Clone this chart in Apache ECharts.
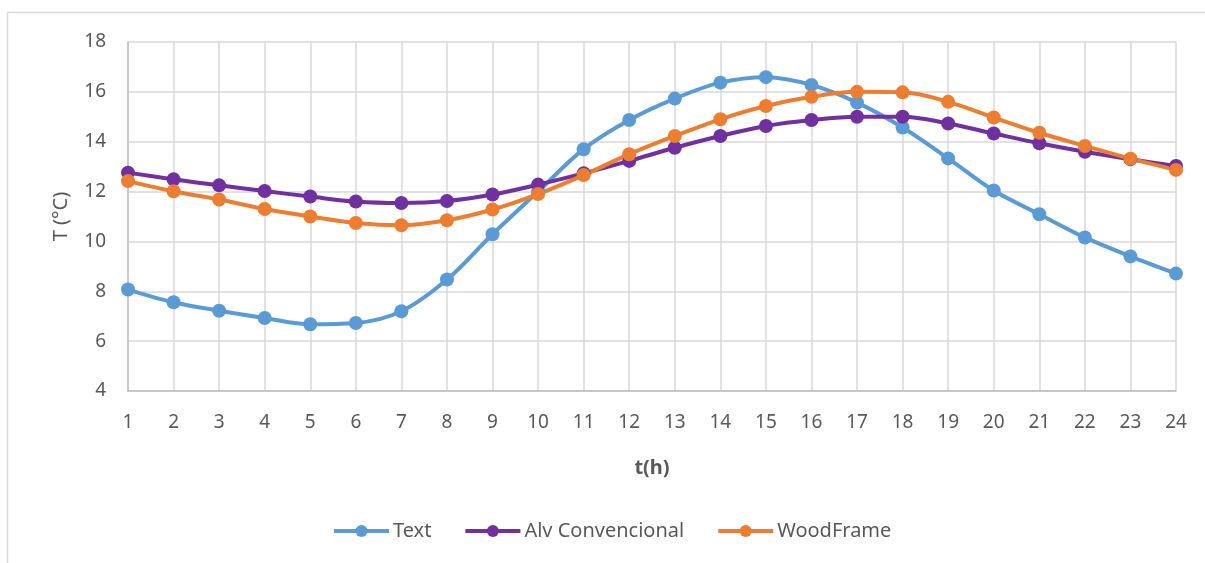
<!DOCTYPE html>
<html>
<head>
<meta charset="utf-8">
<script src="https://cdn.jsdelivr.net/npm/echarts@6/dist/echarts.min.js"></script>
<style>
html,body{margin:0;padding:0;background:#fff;}
#chart{width:1205px;height:563px;}
</style>
</head>
<body>
<div id="chart"></div>
<script>
var hours = ['1','2','3','4','5','6','7','8','9','10','11','12','13','14','15','16','17','18','19','20','21','22','23','24'];
var seriesNames = ['Text', 'Alv Convencional', 'WoodFrame'];
var textValues = [8.07, 7.56, 7.22, 6.93, 6.68, 6.73, 7.2, 8.47, 10.29, 12.0, 13.7, 14.87, 15.73, 16.37, 16.59, 16.28, 15.57, 14.57, 13.33, 12.04, 11.09, 10.16, 9.4, 8.71];
var alvValues = [12.76, 12.49, 12.25, 12.02, 11.8, 11.6, 11.54, 11.62, 11.88, 12.28, 12.73, 13.23, 13.76, 14.23, 14.63, 14.87, 15.0, 15.0, 14.73, 14.33, 13.94, 13.6, 13.3, 13.03];
var woodValues = [12.42, 12.01, 11.68, 11.3, 11.0, 10.74, 10.65, 10.85, 11.28, 11.9, 12.66, 13.5, 14.23, 14.9, 15.43, 15.8, 16.0, 15.98, 15.6, 14.97, 14.36, 13.83, 13.32, 12.87];
var yMin = 4, yMax = 18, yStep = 2;
var xTitle = 't(h)';
var yTitle = 'T (°C)';

var colors = ['#5B9BD5', '#7030A0', '#ED7D31'];
var font = 'Noto Sans';
var labelColor = '#595959';

function mkSeries(name, data, color) {
  return {
    name: name,
    type: 'line',
    data: data,
    smooth: 0.35,
    symbol: 'circle',
    symbolSize: 14,
    showSymbol: true,
    lineStyle: {color: color, width: 4},
    itemStyle: {color: color},
    emphasis: {disabled: true}
  };
}

var chart = echarts.init(document.getElementById('chart'), null, {renderer: 'canvas'});
chart.setOption({
  animation: false,
  backgroundColor: '#ffffff',
  graphic: [{
    type: 'rect',
    z: -10,
    silent: true,
    shape: {x: 7.5, y: 12.5, width: 1400, height: 800},
    style: {fill: 'none', stroke: '#d9d9d9', lineWidth: 1.5}
  }],
  grid: {left: 128, right: 29, top: 42, bottom: 172, containLabel: false},
  legend: {
    data: seriesNames,
    left: 332,
    top: 521,
    padding: 0,
    itemWidth: 55,
    itemHeight: 15,
    itemGap: 32,
    lineStyle: {width: 4},
    textStyle: {fontFamily: font, fontSize: 20, color: labelColor, padding: [0,0,0,-1]}
  },
  xAxis: {
    type: 'category',
    data: hours,
    boundaryGap: false,
    name: xTitle,
    nameLocation: 'middle',
    nameGap: 67,
    nameTextStyle: {fontFamily: font, fontSize: 20, fontWeight: 'bold', color: labelColor},
    axisLine: {lineStyle: {color: '#bfbfbf', width: 1.5}},
    axisTick: {show: false},
    axisLabel: {fontFamily: font, fontSize: 19, color: labelColor, margin: 22},
    splitLine: {show: true, lineStyle: {color: '#d9d9d9', width: 1.5}}
  },
  yAxis: {
    type: 'value',
    min: yMin,
    max: yMax,
    interval: yStep,
    name: yTitle,
    nameLocation: 'middle',
    nameGap: 57,
    nameTextStyle: {fontFamily: font, fontSize: 20, color: labelColor},
    axisLine: {show: true, lineStyle: {color: '#bfbfbf', width: 1.5}},
    axisTick: {show: false},
    axisLabel: {fontFamily: font, fontSize: 19, color: labelColor, margin: 22},
    splitLine: {show: true, lineStyle: {color: '#d9d9d9', width: 1.5}}
  },
  series: [
    mkSeries(seriesNames[0], textValues, colors[0]),
    mkSeries(seriesNames[1], alvValues, colors[1]),
    mkSeries(seriesNames[2], woodValues, colors[2])
  ]
});
</script>
</body>
</html>
